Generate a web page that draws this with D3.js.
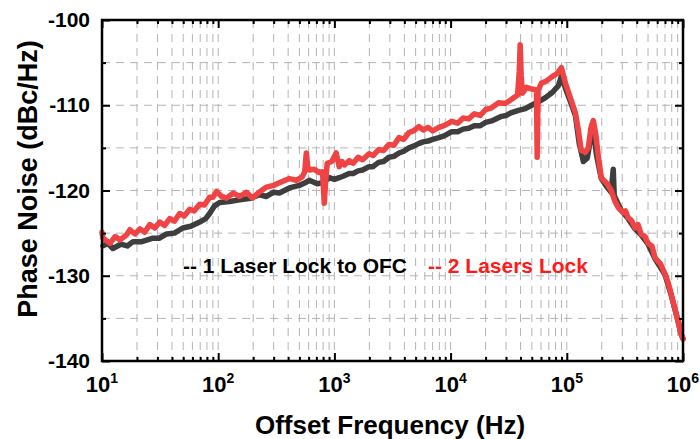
<!DOCTYPE html>
<html>
<head>
<meta charset="utf-8">
<script src="https://cdn.jsdelivr.net/npm/d3@7"></script>
<style>
  body { margin: 0; background: #fff; }
  text { font-family: "Liberation Sans", Arial, sans-serif; font-weight: bold; }
</style>
</head>
<body>
<svg id="chart" width="700" height="439"></svg>
<script>
// tick values
var xDecades = [1e1, 1e2, 1e3, 1e4, 1e5, 1e6];
var yTicks = [-100, -110, -120, -130, -140];
var yMinor = [-105, -115, -125, -135];
var legendLabels = ["-- 1 Laser Lock to OFC", "-- 2 Lasers Lock"];

// [offset frequency (Hz), phase noise (dBc/Hz)]
var oneLaser = [
  [10.2, -126.5], [11.2, -126.2], [12.4, -126.8], [14.5, -126.3], [16.5, -126.5], [18.5, -126.0],
  [22, -126.0], [27.4, -125.6], [31, -125.6], [36, -125.1], [42, -125.0], [49.5, -124.4],
  [58, -124.2], [69.3, -123.7], [78, -123.3], [84.4, -122.7], [93.1, -121.8], [103, -121.4],
  [125, -121.3], [153, -121.1], [190, -120.9], [227, -120.5], [260, -120.7], [300, -120.2],
  [336, -120.3], [410, -119.7], [499, -119.4], [560, -119.1], [608, -118.8], [712, -119.2],
  [786, -119.1], [902, -118.5], [1000, -118.7], [1099, -118.5], [1200, -118.3], [1339, -118.0],
  [1450, -118.0], [1600, -117.7], [1750, -117.6], [1987, -117.2], [2150, -117.2], [2400, -116.7],
  [2650, -116.6], [2951, -116.1], [3250, -116.0], [3600, -115.6], [3950, -115.4], [4383, -115.0],
  [4800, -114.8], [5300, -114.5], [5800, -114.3], [6400, -114.2], [7000, -114.0], [7930, -113.8],
  [8800, -113.6], [10240, -113.1], [11500, -113.1], [12800, -112.8], [14320, -112.7],
  [16000, -112.4], [18000, -112.4], [20030, -112.0], [23000, -111.8], [27480, -111.3],
  [30000, -111.2], [33000, -110.9], [38440, -110.6], [44000, -110.4], [49680, -110.0],
  [57000, -109.6], [65520, -109.1], [75000, -108.5], [84650, -107.7], [89900, -106.6],
  [97300, -108.0], [109000, -109.8], [118600, -111.2], [128000, -114.5], [139000, -116.6],
  [150000, -116.2], [160000, -114.0], [169000, -112.6], [180000, -115.8], [198000, -118.6],
  [222000, -119.6], [241000, -120.2], [251000, -117.5], [256000, -120.6], [290000, -122.2],
  [337000, -123.3], [387000, -124.5], [436000, -125.2], [501000, -126.3], [575000, -128.0],
  [701000, -129.9], [789000, -132.2], [906000, -135.3], [961000, -136.8], [1000000, -137.4]
];

var twoLasers = [
  [10, -124.9], [10.2, -125.6], [11.7, -126.2], [13, -125.4], [14.3, -125.8], [16.3, -125.2],
  [17.4, -124.6], [19.2, -125.1], [21.2, -124.5], [23.3, -124.9], [25.8, -124.0], [28.5, -124.4],
  [31.4, -123.7], [34.6, -124.1], [38.3, -123.3], [42, -123.6], [46.6, -122.7], [51, -123.0],
  [56.9, -122.2], [62, -122.4], [69.3, -121.6], [76, -121.7], [84.4, -120.8], [90, -120.8],
  [96.8, -120.1], [107, -120.7], [118, -120.9], [135, -120.3], [153, -120.7], [175, -120.2],
  [197, -120.9], [225, -120.2], [260, -119.6], [300, -119.4], [336, -119.1], [410, -118.6],
  [470, -118.8], [529, -118.4], [555, -117.8], [573, -115.6], [590, -117.2], [608, -117.6],
  [670, -117.5], [741, -117.9], [790, -117.8], [818, -121.5], [840, -119.0], [867, -116.8],
  [950, -116.6], [1036, -115.6], [1099, -117.2], [1160, -116.6], [1220, -117.0], [1339, -116.5],
  [1450, -116.8], [1600, -116.1], [1750, -116.4], [1987, -115.7], [2150, -115.9], [2400, -115.2],
  [2650, -115.3], [2951, -114.6], [3250, -114.7], [3600, -113.8], [3950, -114.0], [4383, -113.2],
  [4800, -113.0], [5333, -112.5], [5800, -112.9], [6400, -112.6], [7000, -113.0], [7930, -112.6],
  [8800, -112.4], [10240, -111.9], [11500, -112.1], [12800, -111.5], [14320, -111.6],
  [16000, -111.0], [18000, -111.2], [20030, -110.5], [22500, -110.3], [25900, -109.7],
  [29500, -109.8], [33500, -109.3], [37700, -108.8], [39000, -106.0], [39700, -102.9],
  [40500, -106.5], [41500, -108.6], [45000, -107.9], [50000, -108.1], [54800, -108.2],
  [55600, -116.1], [56600, -108.3], [60500, -107.4], [66000, -107.2], [73800, -106.7],
  [82000, -106.3], [89900, -105.6], [97300, -107.4], [109000, -109.4], [118600, -110.9],
  [126000, -113.0], [133000, -115.3], [145000, -115.5], [153000, -115.0], [162000, -112.5],
  [169000, -111.8], [178000, -113.5], [187000, -116.1], [198000, -118.5], [222000, -119.2],
  [241000, -120.0], [260000, -121.3], [277000, -122.0], [305000, -122.6], [320000, -122.4],
  [337000, -123.2], [360000, -123.5], [387000, -124.4], [410000, -124.0], [436000, -125.1],
  [470000, -125.4], [501000, -126.2], [540000, -126.5], [575000, -127.9], [640000, -128.6],
  [701000, -129.8], [745000, -130.8], [789000, -132.1], [850000, -133.8], [906000, -135.3],
  [961000, -136.8], [1000000, -137.4]
];

var svg = d3.select("#chart");
var mLeft = 102, mRight = 683, mTop = 20, mBottom = 361;

var x = d3.scaleLog().domain([10, 1e6]).range([mLeft, mRight]);
var y = d3.scaleLinear().domain([-140, -100]).range([mBottom, mTop]);

var xMinor = [];
xDecades.slice(0, -1).forEach(function (d) {
  for (var k = 2; k <= 9; k++) xMinor.push(d * k);
});

// dashed grid
var grid = svg.append("g").attr("stroke", "#b4b4b4").attr("stroke-width", 1)
  .attr("stroke-dasharray", "8,6");
grid.selectAll(".vgrid")
  .data(xMinor.concat(xDecades.slice(1, -1)))
  .enter().append("line")
  .attr("x1", function (d) { return x(d); }).attr("x2", function (d) { return x(d); })
  .attr("y1", mTop).attr("y2", mBottom);
grid.selectAll(".hgrid")
  .data(yMinor.concat(yTicks.slice(1, -1)))
  .enter().append("line")
  .attr("x1", mLeft).attr("x2", mRight)
  .attr("y1", function (d) { return y(d); }).attr("y2", function (d) { return y(d); });

// series
var line = d3.line()
  .x(function (d) { return x(d[0]); })
  .y(function (d) { return y(d[1]); });

svg.append("path").datum(oneLaser)
  .attr("d", line).attr("fill", "none")
  .attr("stroke", "#3e3e3e").attr("stroke-width", 5.5)
  .attr("stroke-linejoin", "round").attr("stroke-linecap", "round");

svg.append("path").datum(twoLasers)
  .attr("d", line).attr("fill", "none")
  .attr("stroke", "#f04444").attr("stroke-width", 5.5)
  .attr("stroke-linejoin", "round").attr("stroke-linecap", "round");

// inward ticks on all four sides
function ticks(axis, vals, size, tr) {
  svg.append("g").attr("transform", tr)
    .call(axis.tickValues(vals).tickSize(size).tickFormat(""))
    .call(function (g) { g.select(".domain").remove(); })
    .selectAll("line").attr("stroke", "#000").attr("stroke-width", 2);
}
ticks(d3.axisBottom(x), xDecades, -8, "translate(0," + mBottom + ")");
ticks(d3.axisBottom(x), xMinor, -4, "translate(0," + mBottom + ")");
ticks(d3.axisTop(x), xDecades, -8, "translate(0," + mTop + ")");
ticks(d3.axisTop(x), xMinor, -4, "translate(0," + mTop + ")");
ticks(d3.axisLeft(y), yTicks, -8, "translate(" + mLeft + ",0)");
ticks(d3.axisLeft(y), yMinor, -4, "translate(" + mLeft + ",0)");
ticks(d3.axisRight(y), yTicks, -8, "translate(" + mRight + ",0)");
ticks(d3.axisRight(y), yMinor, -4, "translate(" + mRight + ",0)");

svg.append("rect")
  .attr("x", mLeft).attr("y", mTop)
  .attr("width", mRight - mLeft).attr("height", mBottom - mTop)
  .attr("fill", "none").attr("stroke", "#000").attr("stroke-width", 2.5);

// tick labels
svg.selectAll(".ylab").data(yTicks).enter().append("text")
  .attr("x", mLeft - 12).attr("y", function (d) { return y(d) + 7; })
  .attr("text-anchor", "end").style("font-size", "21px")
  .text(function (d) { return d; });

var xl = svg.selectAll(".xlab").data(xDecades).enter().append("text")
  .attr("x", function (d) { return x(d); }).attr("y", 392)
  .attr("text-anchor", "middle").style("font-size", "22px");
xl.append("tspan").text("10");
xl.append("tspan").attr("dy", -9).style("font-size", "14px")
  .text(function (d) { return Math.round(Math.log10(d)); });

// axis titles
svg.append("text")
  .attr("x", 390).attr("y", 434).attr("text-anchor", "middle")
  .style("font-size", "26px").text("Offset Frequency (Hz)");
svg.append("text")
  .attr("transform", "translate(37,179) rotate(-90)").attr("text-anchor", "middle")
  .style("font-size", "27px").text("Phase Noise (dBc/Hz)");

// legend
svg.append("text").attr("x", 183).attr("y", 273).style("font-size", "21px")
  .attr("fill", "#000").text(legendLabels[0]);
svg.append("text").attr("x", 428).attr("y", 273).style("font-size", "21px")
  .attr("fill", "#ff1a1a").text(legendLabels[1]);
</script>
</body>
</html>
